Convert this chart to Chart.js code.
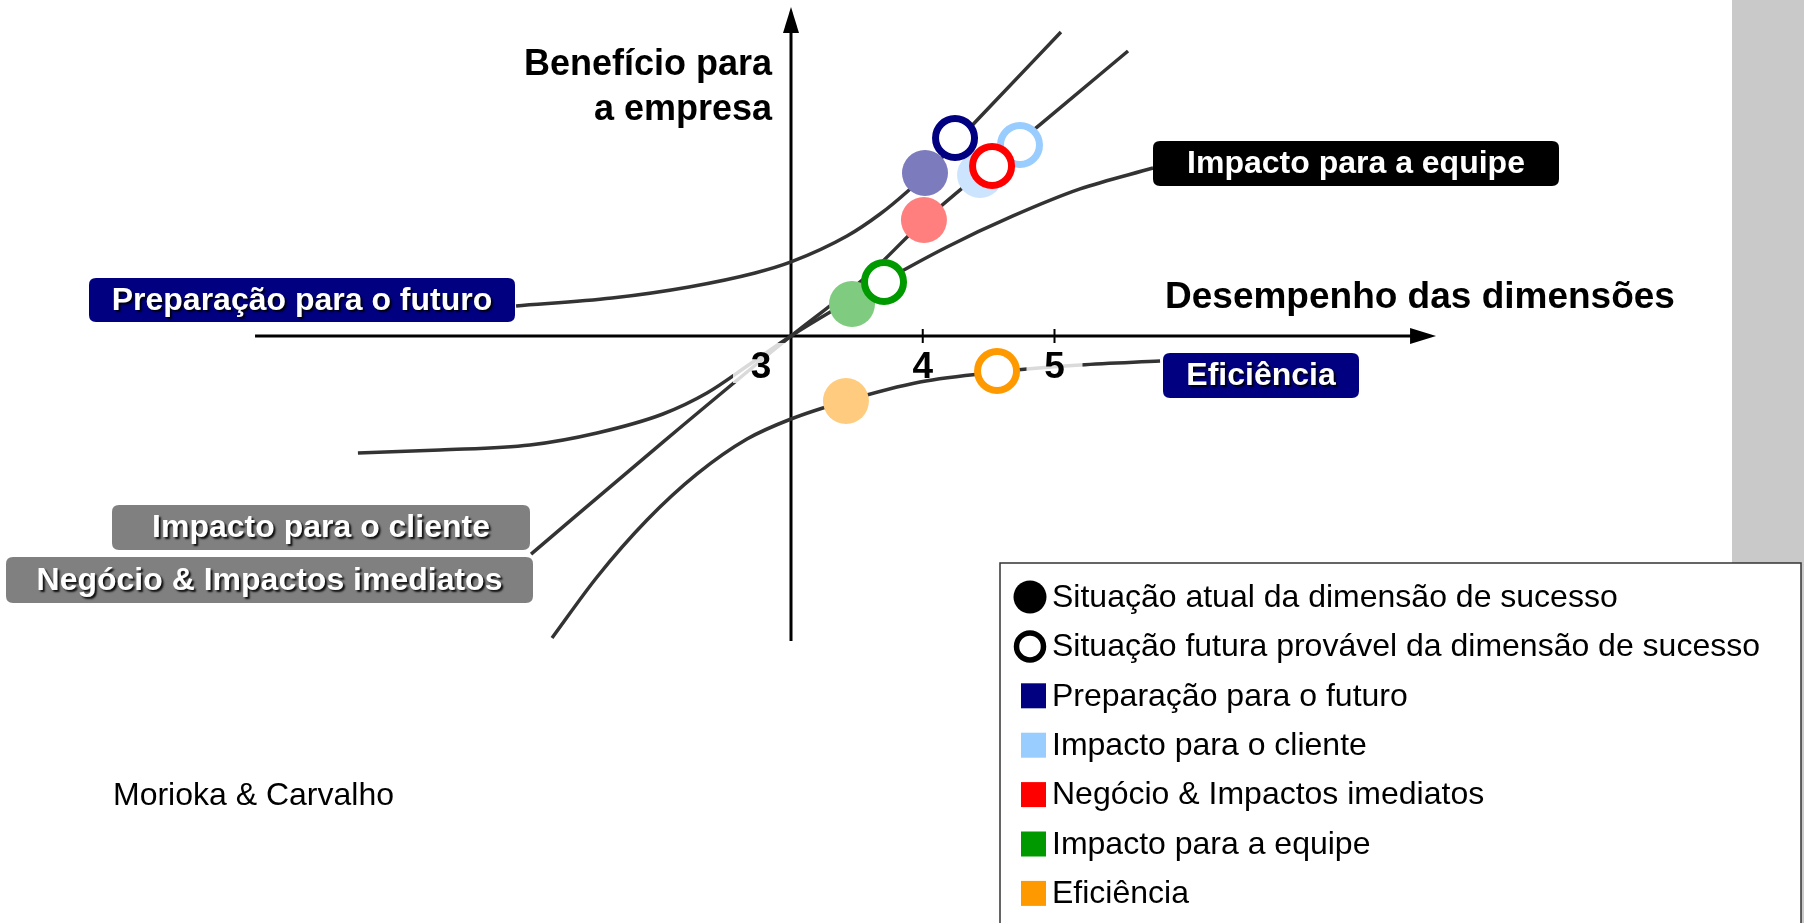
<!DOCTYPE html>
<html><head><meta charset="utf-8">
<script src="https://cdn.jsdelivr.net/npm/chart.js@4.4.0/dist/chart.umd.min.js"></script>
<style>html,body{margin:0;padding:0;background:#fff;overflow:hidden}#wrap{width:1804px;height:923px;position:relative}</style>
</head><body><div id="wrap"><canvas id="c" width="1804" height="923"></canvas></div>
<script>
// ---------- DATA ----------
const seriesNames = ['Preparação para o futuro','Impacto para o cliente','Negócio & Impactos imediatos','Impacto para a equipe','Eficiência'];
const seriesColors = ['#000080','#99ccff','#ff0000','#009900','#ff9900'];
const currentTints = ['#7b7bbd','#cce4fd','#ff7f7f','#7fcb7f','#ffcb7f'];
// current situation (x = desempenho, y = benefício)
const currentX = [4.017, 4.435, 4.009, 3.463, 3.417];
const currentY = [1.237, 1.222, 0.880, 0.243, -0.493];
// probable future situation
const futureX = [4.245, 4.738, 4.526, 3.706, 4.564];
const futureY = [1.503, 1.450, 1.290, 0.410, -0.266];
// curves
const curvePrepX = [0.913,1.641,2.226,2.727,3.000,3.425,3.676,3.888,4.032,4.435,5.049];
const curvePrepY = [0.228,0.288,0.372,0.478,0.562,0.759,0.926,1.101,1.237,1.662,2.307];
const curveClienteX = [1.027,2.028,3.000,3.577,4.009,4.913,5.558];
const curveClienteY = [-1.655,-0.805,0.000,0.455,0.873,1.624,2.163];
const curveEquipeX = [-0.287,0.336,1.019,1.528,2.028,2.362,2.689,3.000,3.706,4.184,4.685,5.194,5.748];
const curveEquipeY = [-0.888,-0.865,-0.827,-0.736,-0.592,-0.433,-0.213,0.000,0.417,0.676,0.911,1.116,1.275];
const curveEficX = [1.186,1.528,1.907,2.287,2.666,3.000,3.417,3.979,4.564,5.194,5.801];
const curveEficY = [-2.292,-1.829,-1.397,-1.047,-0.782,-0.630,-0.493,-0.349,-0.273,-0.220,-0.190];
const xTicks = ['3','4','5'];
const xTickValues = [3,4,5];
const xTitle = 'Desempenho das dimensões';
const yTitle = ['Benefício para','a empresa'];
const legendStatus = ['Situação atual da dimensão de sucesso','Situação futura provável da dimensão de sucesso'];
const sourceText = 'Morioka & Carvalho';

// ---------- helpers ----------
const pts = (xs, ys) => xs.map((v, i) => ({x: v, y: ys[i]}));
const FONT = '"Liberation Sans", Arial, sans-serif';
const UNIT = 131.75;               // pixels per unit (layout)
const X_ORIGIN_PX = 791, Y_ORIGIN_PX = 336;
const W = 1804, H = 923;

function curveDs(data){
  return {type:'line', data, showLine:true, borderColor:'#333333', borderWidth:3.5,
    pointRadius:0, pointHoverRadius:0, fill:false, cubicInterpolationMode:'monotone', order:3, borderCapStyle:'butt'};
}

function roundRect(ctx,x,y,w,h,r){
  ctx.beginPath();
  ctx.moveTo(x+r,y); ctx.lineTo(x+w-r,y); ctx.quadraticCurveTo(x+w,y,x+w,y+r);
  ctx.lineTo(x+w,y+h-r); ctx.quadraticCurveTo(x+w,y+h,x+w-r,y+h);
  ctx.lineTo(x+r,y+h); ctx.quadraticCurveTo(x,y+h,x,y+h-r);
  ctx.lineTo(x,y+r); ctx.quadraticCurveTo(x,y,x+r,y); ctx.closePath();
}

// label boxes for the curves (layout)
const labelBoxes = [
  {text: seriesNames[0], x:89,  y:278, w:426, h:44, fill:'#000080'},
  {text: seriesNames[1], x:112, y:505, w:418, h:45, fill:'#808080'},
  {text: seriesNames[2], x:6,   y:557, w:527, h:46, fill:'#808080'},
  {text: seriesNames[3], x:1153,y:141, w:406, h:45, fill:'#000000'},
  {text: seriesNames[4], x:1163,y:353, w:196, h:45, fill:'#000080'}
];

const decorPlugin = {
  id:'decor',
  beforeDraw(chart){
    const ctx = chart.ctx;
    ctx.save();
    ctx.fillStyle = '#c9c9c9';
    ctx.fillRect(1732, 0, W-1732, H);
    ctx.restore();
  },
  beforeDatasetsDraw(chart){
    const {ctx, scales:{x, y}} = chart;
    const ox = x.getPixelForValue(3), oy = y.getPixelForValue(0);
    const xa0 = x.getPixelForValue(-1.068), xa1 = x.getPixelForValue(7.896);
    const ya0 = y.getPixelForValue(-2.315), ya1 = y.getPixelForValue(2.497);
    ctx.save();
    ctx.strokeStyle = '#000'; ctx.fillStyle = '#000'; ctx.lineWidth = 3;
    // x axis
    ctx.beginPath(); ctx.moveTo(xa0, oy); ctx.lineTo(xa1-20, oy); ctx.stroke();
    ctx.beginPath(); ctx.moveTo(xa1, oy); ctx.lineTo(xa1-26, oy-8); ctx.lineTo(xa1-26, oy+8); ctx.closePath(); ctx.fill();
    // y axis
    ctx.beginPath(); ctx.moveTo(ox, ya0); ctx.lineTo(ox, ya1+20); ctx.stroke();
    ctx.beginPath(); ctx.moveTo(ox, ya1); ctx.lineTo(ox-8, ya1+26); ctx.lineTo(ox+8, ya1+26); ctx.closePath(); ctx.fill();
    // tick marks
    ctx.lineWidth = 2;
    xTickValues.forEach(v => {
      if (v === 3) return;
      const px = x.getPixelForValue(v);
      ctx.beginPath(); ctx.moveTo(px, oy-7); ctx.lineTo(px, oy+7); ctx.stroke();
    });
    ctx.restore();
  },
  afterDatasetsDraw(chart){
    const {ctx, scales:{x, y}} = chart;
    const ox = x.getPixelForValue(3), oy = y.getPixelForValue(0);
    ctx.save();
    // tick labels with translucent halo
    xTickValues.forEach((v, i) => {
      let px = x.getPixelForValue(v);
      if (v === 3) px -= 30;
      if (v !== 4) {
        ctx.fillStyle = 'rgba(255,255,255,0.82)';
        ctx.fillRect(px-28, oy+7, 56, 40);
      }
      ctx.fillStyle = '#000';
      ctx.font = 'bold 37px ' + FONT;
      ctx.textAlign = 'center'; ctx.textBaseline = 'alphabetic';
      ctx.fillText(xTicks[i], px, oy+42);
    });
    // curve label boxes
    labelBoxes.forEach(b => {
      ctx.fillStyle = b.fill;
      roundRect(ctx, b.x, b.y, b.w, b.h, 7); ctx.fill();
      ctx.save();
      ctx.shadowColor = 'rgba(0,0,0,0.9)'; ctx.shadowOffsetX = 2; ctx.shadowOffsetY = 2; ctx.shadowBlur = 2;
      ctx.fillStyle = '#fff';
      ctx.font = 'bold 32px ' + FONT;
      ctx.textAlign = 'center'; ctx.textBaseline = 'middle';
      ctx.fillText(b.text, b.x + b.w/2, b.y + b.h/2 + 1);
      ctx.restore();
    });
    ctx.restore();
  },
  afterDraw(chart){
    const ctx = chart.ctx;
    ctx.save();
    ctx.fillStyle = '#000';
    // axis titles
    ctx.font = 'bold 36px ' + FONT;
    ctx.textAlign = 'right'; ctx.textBaseline = 'alphabetic';
    ctx.fillText(yTitle[0], 772, 75);
    ctx.fillText(yTitle[1], 772, 120);
    ctx.font = 'bold 37px ' + FONT;
    ctx.textAlign = 'left';
    ctx.fillText(xTitle, 1165, 308);
    // source
    ctx.font = '32px ' + FONT;
    ctx.fillText(sourceText, 113, 805);
    // legend
    const lx = 1000, ly = 563;
    ctx.fillStyle = '#fff';
    ctx.fillRect(lx, ly, W - 3 - lx, H + 5 - ly);
    ctx.strokeStyle = '#333'; ctx.lineWidth = 1.5;
    ctx.strokeRect(lx, ly, W - 3 - lx, H + 5 - ly);
    const rows = legendStatus.concat(seriesNames);
    ctx.font = '32px ' + FONT;
    ctx.textBaseline = 'middle'; ctx.textAlign = 'left';
    rows.forEach((t, i) => {
      const cy = 597 + i*49.4;
      if (i === 0) {
        ctx.fillStyle = '#000'; ctx.beginPath(); ctx.arc(1030, cy, 16.5, 0, Math.PI*2); ctx.fill();
      } else if (i === 1) {
        ctx.strokeStyle = '#000'; ctx.lineWidth = 5.5; ctx.beginPath(); ctx.arc(1030, cy, 13.5, 0, Math.PI*2); ctx.stroke();
      } else {
        ctx.fillStyle = seriesColors[i-2]; ctx.fillRect(1021, cy-12.5, 25, 25);
      }
      ctx.fillStyle = '#000';
      ctx.fillText(t, 1052, cy + 1);
    });
    ctx.restore();
  }
};

const xMin = 3 - X_ORIGIN_PX/UNIT, xMax = xMin + W/UNIT;
const yMax = Y_ORIGIN_PX/UNIT, yMin = yMax - H/UNIT;

new Chart(document.getElementById('c'), {
  type:'scatter',
  data:{ datasets:[
    curveDs(pts(curvePrepX, curvePrepY)),
    curveDs(pts(curveClienteX, curveClienteY)),
    curveDs(pts(curveEquipeX, curveEquipeY)),
    curveDs(pts(curveEficX, curveEficY)),
    {label:'current', data:pts(currentX, currentY), pointRadius:23, pointHoverRadius:23,
      pointBackgroundColor:currentTints, pointBorderWidth:0, pointBorderColor:currentTints, order:2, showLine:false},
    {label:'future', data:pts(futureX, futureY), pointRadius:19.5, pointHoverRadius:19.5,
      pointBackgroundColor:'#ffffff', pointBorderColor:seriesColors, pointBorderWidth:7, order:1, showLine:false}
  ]},
  options:{
    responsive:false, animation:false, devicePixelRatio:1,
    layout:{padding:0, autoPadding:false},
    scales:{
      x:{type:'linear', min:xMin, max:xMax, display:false},
      y:{type:'linear', min:yMin, max:yMax, display:false}
    },
    plugins:{legend:{display:false}, tooltip:{enabled:false}},
    events:[]
  },
  plugins:[decorPlugin]
});
</script></body></html>
